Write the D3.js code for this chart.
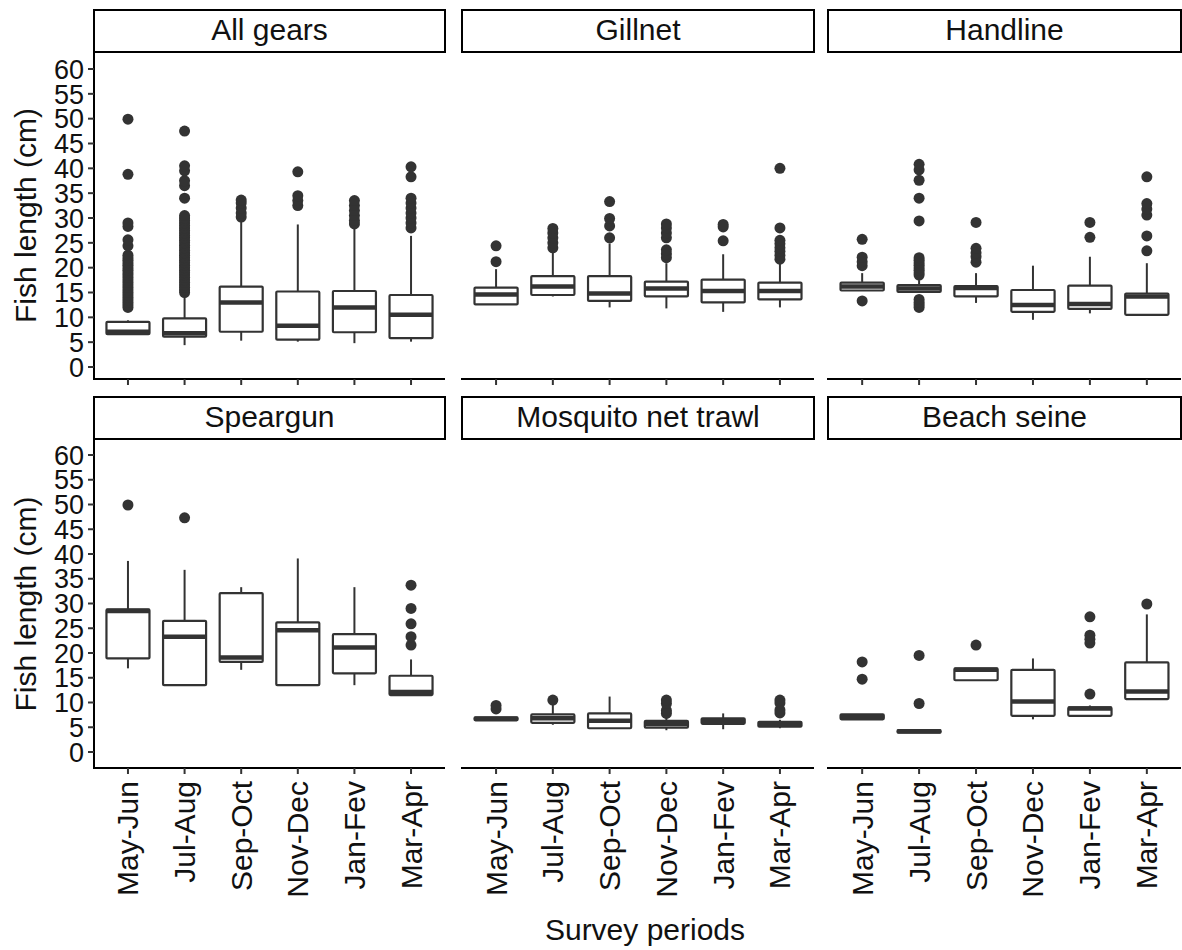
<!DOCTYPE html>
<html>
<head>
<meta charset="utf-8">
<script src="https://cdn.jsdelivr.net/npm/d3@7"></script>
<style>
  body { margin: 0; background: #fff; }
  text { font-family: "Liberation Sans", Arial, sans-serif; fill: #111; }
</style>
</head>
<body>
<svg id="chart" width="1182" height="950"></svg>
<script>
const gears = ["All gears", "Gillnet", "Handline", "Speargun", "Mosquito net trawl", "Beach seine"];
const periods = ["May-Jun", "Jul-Aug", "Sep-Oct", "Nov-Dec", "Jan-Fev", "Mar-Apr"];
const yTicks = [0, 5, 10, 15, 20, 25, 30, 35, 40, 45, 50, 55, 60];

// one row per gear, one value per period
const whiskLow = [
  [6.5, 4.4, 5.3, 5.1, 4.8, 5.1],
  [12.6, 14.2, 12.0, 11.8, 11.1, 12.0],
  [15.4, 15.1, 12.9, 9.5, 10.8, 10.5],
  [16.9, 13.5, 16.6, 13.5, 13.5, 11.5],
  [6.4, 5.5, 4.8, 4.4, 4.6, 4.8],
  [6.6, 3.9, 14.5, 6.6, 7.3, 10.7]
];
const q1 = [
  [6.6, 6.1, 7.1, 5.5, 7.0, 5.8],
  [12.6, 14.5, 13.3, 14.2, 13.0, 13.6],
  [15.4, 15.1, 14.2, 11.1, 11.7, 10.5],
  [18.9, 13.5, 18.2, 13.5, 15.9, 11.5],
  [6.4, 5.9, 4.8, 4.9, 5.7, 5.1],
  [6.6, 3.9, 14.5, 7.3, 7.3, 10.7]
];
const medians = [
  [7.1, 6.8, 13.0, 8.3, 12.0, 10.5],
  [14.6, 16.2, 14.8, 15.8, 15.3, 15.3],
  [16.2, 15.8, 15.9, 12.5, 12.7, 14.2],
  [28.5, 23.3, 19.1, 24.6, 21.1, 12.1],
  [6.7, 6.8, 6.3, 5.6, 6.3, 5.6],
  [7.1, 4.2, 16.6, 10.2, 8.8, 12.2]
];
const q3 = [
  [9.1, 9.8, 16.2, 15.2, 15.3, 14.5],
  [16.0, 18.3, 18.3, 17.2, 17.6, 17.0],
  [17.0, 16.5, 16.3, 15.5, 16.4, 14.8],
  [28.8, 26.5, 32.1, 26.2, 23.8, 15.4],
  [7.0, 7.6, 7.8, 6.3, 6.8, 6.1],
  [7.6, 4.4, 16.9, 16.6, 9.0, 18.1]
];
const whiskHigh = [
  [9.4, 14.9, 29.6, 28.7, 27.9, 26.4],
  [19.7, 23.2, 24.9, 20.9, 22.7, 20.9],
  [18.9, 17.5, 18.9, 20.4, 22.2, 20.9],
  [38.6, 36.8, 33.3, 39.1, 33.3, 18.7],
  [7.0, 10.0, 11.2, 7.2, 7.8, 6.5],
  [7.6, 4.4, 16.9, 18.9, 9.4, 27.8]
];
const outliers = [
  [
    [12.0, 12.5, 13.0, 13.5, 14.0, 14.5, 15.0, 15.5, 16.0, 16.5, 17.0, 17.5, 18.0, 18.5, 19.0, 19.5, 20.0, 20.5, 21.0, 21.5, 22.0, 22.5, 24.4, 25.6, 28.3, 29.0, 38.8, 49.9],
    [15.0, 15.5, 16.0, 16.5, 17.0, 17.5, 18.0, 18.5, 19.0, 19.5, 20.0, 20.5, 21.0, 21.5, 22.0, 22.5, 23.0, 23.5, 24.0, 24.5, 25.0, 25.5, 26.0, 26.5, 27.0, 27.5, 28.0, 28.5, 29.0, 29.5, 30.0, 30.5, 34.0, 36.5, 37.5, 39.5, 40.5, 47.5],
    [30.2, 31.0, 32.0, 33.0, 33.6],
    [32.5, 33.5, 34.5, 39.3],
    [28.8, 29.5, 30.5, 31.5, 32.5, 33.5],
    [28.0, 29.0, 30.0, 31.0, 32.0, 33.0, 34.0, 38.3, 40.3]
  ],
  [
    [21.2, 24.4],
    [24.0, 25.0, 26.0, 27.0, 27.9],
    [26.0, 28.4, 29.9, 33.3],
    [22.0, 22.8, 23.6, 26.0, 27.0, 28.0, 28.8],
    [25.4, 28.2, 28.7],
    [21.7, 22.5, 23.3, 24.0, 24.8, 25.5, 28.0, 40.0]
  ],
  [
    [13.3, 20.4, 21.2, 22.1, 25.7],
    [12.0, 12.5, 13.0, 13.6, 18.5, 19.0, 19.5, 20.0, 20.5, 21.0, 21.5, 22.0, 29.4, 34.0, 37.6, 39.7, 40.8],
    [21.1, 22.2, 23.0, 23.9, 29.1],
    [],
    [26.1, 29.1],
    [23.4, 26.4, 30.6, 31.8, 32.9, 38.3]
  ],
  [[49.9], [47.3], [], [], [], [21.6, 23.3, 25.9, 29.0, 33.7]],
  [[8.7, 9.4], [10.5], [], [7.8, 8.4, 9.8, 10.5], [], [7.9, 8.5, 9.9, 10.5]],
  [[14.7, 18.2], [9.8, 19.5], [21.6], [], [11.7, 22.0, 22.8, 23.6, 27.3], [29.9]]
];

const svg = d3.select("#chart");
const ink = "#333333";

// layout
const cols = [[94, 445], [462, 814], [828, 1181]];
const rows = [
  { stripTop: 10, top: 52, bottom: 379, y0: 367, y60: 69 },
  { stripTop: 397, top: 440, bottom: 768, y0: 752, y60: 455 }
];
const stripH = 42;

gears.forEach((gear, gi) => {
  const col = cols[gi % 3];
  const row = rows[Math.floor(gi / 3)];
  const isBottom = gi >= 3;

  const x = d3.scalePoint().domain(periods).range(col).padding(0.6);
  const y = d3.scaleLinear().domain([0, 60]).range([row.y0, row.y60]);
  const bw = x.step() * 0.76;

  const g = svg.append("g");

  // strip
  g.append("rect")
    .attr("x", col[0]).attr("y", row.stripTop)
    .attr("width", col[1] - col[0]).attr("height", stripH)
    .attr("fill", "#fff").attr("stroke", "#000").attr("stroke-width", 2);
  g.append("text")
    .attr("x", (col[0] + col[1]) / 2).attr("y", row.stripTop + 30)
    .attr("text-anchor", "middle").attr("font-size", 30)
    .text(gear);

  // x axis
  g.append("line")
    .attr("x1", col[0] - 1).attr("x2", col[1])
    .attr("y1", row.bottom).attr("y2", row.bottom)
    .attr("stroke", "#000").attr("stroke-width", 2);
  periods.forEach(p => {
    g.append("line")
      .attr("x1", x(p)).attr("x2", x(p))
      .attr("y1", row.bottom).attr("y2", row.bottom + 6)
      .attr("stroke", "#333").attr("stroke-width", 2);
    if (isBottom) {
      g.append("text")
        .attr("transform", `translate(${x(p)},${row.bottom + 13}) rotate(-90)`)
        .attr("text-anchor", "end").attr("dy", "0.35em")
        .attr("font-size", 30)
        .text(p);
    }
  });

  // y axis on first column only
  if (gi % 3 === 0) {
    g.append("line")
      .attr("x1", col[0]).attr("x2", col[0])
      .attr("y1", row.top).attr("y2", row.bottom + 1)
      .attr("stroke", "#000").attr("stroke-width", 2);
    yTicks.forEach(t => {
      g.append("line")
        .attr("x1", col[0] - 6).attr("x2", col[0])
        .attr("y1", y(t)).attr("y2", y(t))
        .attr("stroke", "#333").attr("stroke-width", 2);
      g.append("text")
        .attr("x", col[0] - 10).attr("y", y(t))
        .attr("text-anchor", "end").attr("dy", "0.36em")
        .attr("font-size", 27)
        .text(t);
    });
    g.append("text")
      .attr("transform", `translate(36,${(row.top + row.bottom) / 2}) rotate(-90)`)
      .attr("text-anchor", "middle").attr("font-size", 30)
      .text("Fish length (cm)");
  }

  // boxes
  periods.forEach((p, pi) => {
    const cx = x(p);
    const lo = whiskLow[gi][pi], a = q1[gi][pi], m = medians[gi][pi], b = q3[gi][pi], hi = whiskHigh[gi][pi];
    g.append("line")
      .attr("x1", cx).attr("x2", cx).attr("y1", y(b)).attr("y2", y(hi))
      .attr("stroke", ink).attr("stroke-width", 2);
    g.append("line")
      .attr("x1", cx).attr("x2", cx).attr("y1", y(a)).attr("y2", y(lo))
      .attr("stroke", ink).attr("stroke-width", 2);
    g.append("rect")
      .attr("x", cx - bw / 2).attr("y", y(b))
      .attr("width", bw).attr("height", Math.max(0, y(a) - y(b)))
      .attr("fill", "#fff").attr("stroke", ink).attr("stroke-width", 2.2)
      .attr("rx", 1);
    g.append("line")
      .attr("x1", cx - bw / 2).attr("x2", cx + bw / 2)
      .attr("y1", y(m)).attr("y2", y(m))
      .attr("stroke", ink).attr("stroke-width", 4.5);
    g.selectAll(null)
      .data(outliers[gi][pi])
      .enter().append("circle")
      .attr("cx", cx).attr("cy", d => y(d))
      .attr("r", 5.5).attr("fill", ink);
  });
});

svg.append("text")
  .attr("x", 645).attr("y", 940)
  .attr("text-anchor", "middle").attr("font-size", 30)
  .text("Survey periods");
</script>
</body>
</html>
